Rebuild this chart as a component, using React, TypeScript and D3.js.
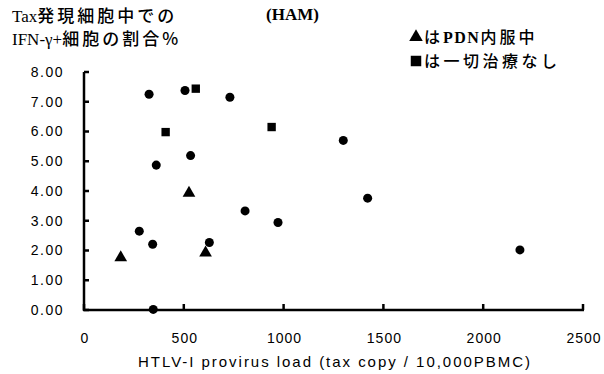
import { scaleLinear, symbol, symbolCircle, symbolSquare, symbolTriangle } from "d3";

// plain circles: no marker in the legend
const circleLoad = [326, 506, 731, 534, 362, 807, 1299, 1421, 277, 344, 628, 972, 347, 2184];
const circlePct = [7.25, 7.38, 7.15, 5.19, 4.87, 3.33, 5.7, 3.76, 2.65, 2.21, 2.27, 2.94, 0.02, 2.02];
// ▲ PDN内服中
const triLoad = [526, 184, 609];
const triPct = [3.93, 1.76, 1.92];
// ■ 一切治療なし
const sqLoad = [560, 409, 940];
const sqPct = [7.44, 5.98, 6.15];

const xTicks = [0, 500, 1000, 1500, 2000, 2500];
const yTicks = [0, 1, 2, 3, 4, 5, 6, 7, 8];

const width = 604;
const height = 374;
const marginLeft = 84;
const marginRight = 21;
const marginTop = 72;
const marginBottom = 64;

const jp = "'Noto Sans CJK JP', sans-serif";
const sans = "'Liberation Sans', Arial, sans-serif";
const serif = "'Liberation Serif', 'Times New Roman', serif";

export default function App() {
  const x = scaleLinear([0, 2500], [marginLeft, width - marginRight]);
  const y = scaleLinear([0, 8], [height - marginBottom, marginTop]);

  const circle = symbol(symbolCircle, 64)() ?? "";
  const tri = symbol(symbolTriangle, 70)() ?? "";
  const sq = symbol(symbolSquare, 70)() ?? "";
  const legTri = symbol(symbolTriangle, 80)() ?? "";
  const legSq = symbol(symbolSquare, 110)() ?? "";

  return (
    <svg
      width={width}
      height={height}
      style={{ position: "absolute", left: 0, top: 0, background: "#fff" }}
    >
      {/* y title */}
      <g fill="#000" fontSize={17}>
        <text x={12} y={22}>
          <tspan fontFamily={serif}>Tax</tspan>
          <tspan fontFamily={jp} fontWeight={500} letterSpacing={3}>発現細胞中での</tspan>
        </text>
        <text x={12} y={45}>
          <tspan fontFamily={serif}>IFN-γ+</tspan>
          <tspan fontFamily={jp} fontWeight={500} letterSpacing={3}>細胞の割合%</tspan>
        </text>
      </g>

      <text x={266} y={20} fontSize={17} fontWeight="bold" fontFamily={serif} fill="#000">
        (HAM)
      </text>

      {/* legend */}
      <g fill="#000" fontSize={16}>
        <path d={legTri} transform="translate(416,37)" />
        <text x={424} y={43}>
          <tspan fontFamily={jp} fontWeight={500} letterSpacing={3}>は</tspan>
          <tspan fontFamily={serif} fontWeight="bold" letterSpacing={1.5}>PDN</tspan>
          <tspan fontFamily={jp} fontWeight={500} letterSpacing={3}>内服中</tspan>
        </text>
        <path d={legSq} transform="translate(416,61)" />
        <text x={424} y={67} fontFamily={jp} fontWeight={500} letterSpacing={3.5}>
          は一切治療なし
        </text>
      </g>

      {/* axes */}
      <g stroke="#000" strokeWidth={2.5} fill="none">
        <line x1={x(0)} x2={x(0)} y1={y(8)} y2={y(0) + 1} />
        <line x1={x(0) - 1} x2={x(2500) + 1} y1={y(0)} y2={y(0)} />
        {yTicks.map((t) => (
          <line key={"yt" + t} x1={x(0)} x2={x(0) + 5} y1={y(t)} y2={y(t)} />
        ))}
        {xTicks.map((t) => (
          <line key={"xt" + t} x1={x(t)} x2={x(t)} y1={y(0)} y2={y(0) - 6} />
        ))}
      </g>

      <g fontFamily={sans} fontSize={14} fill="#000">
        {yTicks.map((t) => (
          <text key={"yl" + t} x={64} y={y(t)} dy="0.35em" textAnchor="end" letterSpacing={1.5}>
            {t.toFixed(2)}
          </text>
        ))}
        {xTicks.map((t) => (
          <text key={"xl" + t} x={x(t) + 1} y={y(0) + 33} textAnchor="middle" letterSpacing={1}>
            {t}
          </text>
        ))}
        <text
          x={138}
          y={367}
          fontSize={15}
          textLength={392}
          lengthAdjust="spacing"
        >
          HTLV-I provirus load (tax copy / 10,000PBMC)
        </text>
      </g>

      {/* points */}
      <g fill="#000">
        {circleLoad.map((v, i) => (
          <path key={"c" + i} d={circle} transform={`translate(${x(v)},${y(circlePct[i])})`} />
        ))}
        {triLoad.map((v, i) => (
          <path key={"t" + i} d={tri} transform={`translate(${x(v)},${y(triPct[i])})`} />
        ))}
        {sqLoad.map((v, i) => (
          <path key={"s" + i} d={sq} transform={`translate(${x(v)},${y(sqPct[i])})`} />
        ))}
      </g>
    </svg>
  );
}
